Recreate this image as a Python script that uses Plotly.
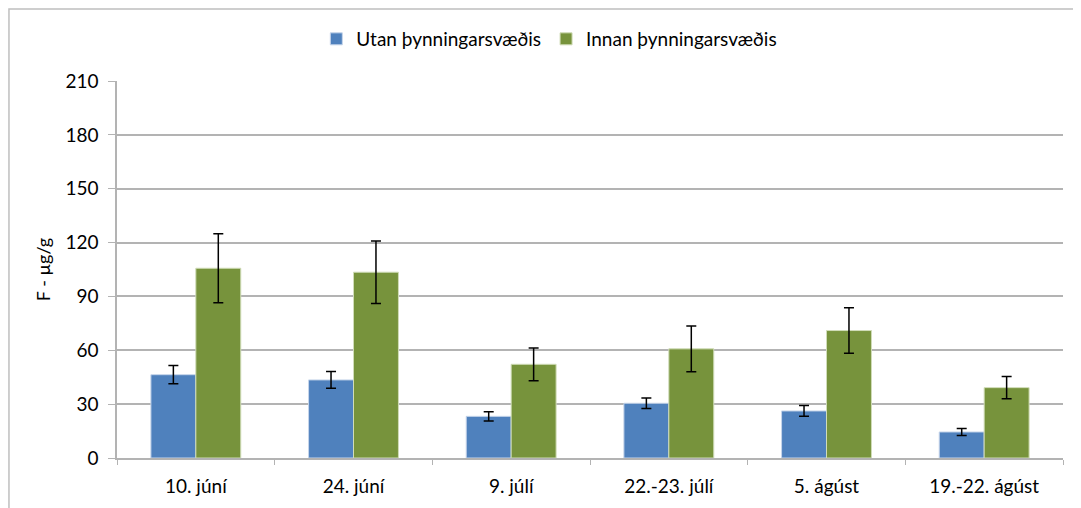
import plotly.graph_objects as go

# dates of sampling
dates = ["10. júní", "24. júní", "9. júlí", "22.-23. júlí", "5. ágúst", "19.-22. ágúst"]

# mean F concentration (µg/g) and error bar half widths
utan = [46.4, 43.5, 23.2, 30.5, 26.2, 14.5]
utan_err = [5.1, 4.7, 2.6, 2.9, 3.0, 1.9]
innan = [105.7, 103.5, 52.2, 60.8, 71.0, 39.2]
innan_err = [19.2, 17.4, 9.1, 12.7, 12.7, 6.2]

FONT = "Lato"

fig = go.Figure()
fig.add_trace(go.Bar(
    x=dates, y=utan, name="Utan þynningarsvæðis",
    marker=dict(color="#4f81bd", line=dict(color="#c6d5ea", width=1)),
    error_y=dict(type="data", array=utan_err, color="black", thickness=1.5, width=5),
))
fig.add_trace(go.Bar(
    x=dates, y=innan, name="Innan þynningarsvæðis",
    marker=dict(color="#77933c", line=dict(color="#d0dcb8", width=1)),
    error_y=dict(type="data", array=innan_err, color="black", thickness=1.5, width=5),
))

# outer chart border (right and bottom edges fall outside the view)
fig.add_shape(type="rect", xref="paper", yref="paper",
              x0=-0.1142, x1=1.06, y0=-0.25, y1=1.191,
              line=dict(color="#bfbfbf", width=1.5), layer="below")

# the page body adds 8px offset, margins compensate for it
fig.update_layout(
    width=1081, height=508,
    margin=dict(l=109, r=26, t=73, b=58, autoexpand=False),
    paper_bgcolor="white", plot_bgcolor="white",
    font=dict(family=FONT, size=19, color="black"),
    barmode="group", bargap=0.43, bargroupgap=0,
    showlegend=True,
    legend=dict(orientation="h", x=0.457, xanchor="center",
                y=1 - 31 / 508, yanchor="middle", yref="container",
                bgcolor="rgba(0,0,0,0)",
                font=dict(size=19), itemwidth=30, traceorder="normal"),
)
fig.update_yaxes(
    range=[0, 210], tickvals=[0, 30, 60, 90, 120, 150, 180, 210],
    showgrid=True, gridcolor="#b3b3b3", gridwidth=1.5,
    showline=True, linecolor="#b3b3b3", linewidth=1.5,
    ticks="outside", ticklen=7, tickcolor="#b3b3b3", ticklabelstandoff=6,
    title=dict(text="F - µg/g", font=dict(size=18), standoff=10),
    zeroline=False,
)
fig.update_xaxes(
    showline=True, linecolor="#b3b3b3", linewidth=1.5,
    ticks="outside", ticklen=5, tickcolor="#b3b3b3", tickson="boundaries",
    ticklabelstandoff=10,
    tickfont=dict(size=19),
)

fig.write_html("out.html")
